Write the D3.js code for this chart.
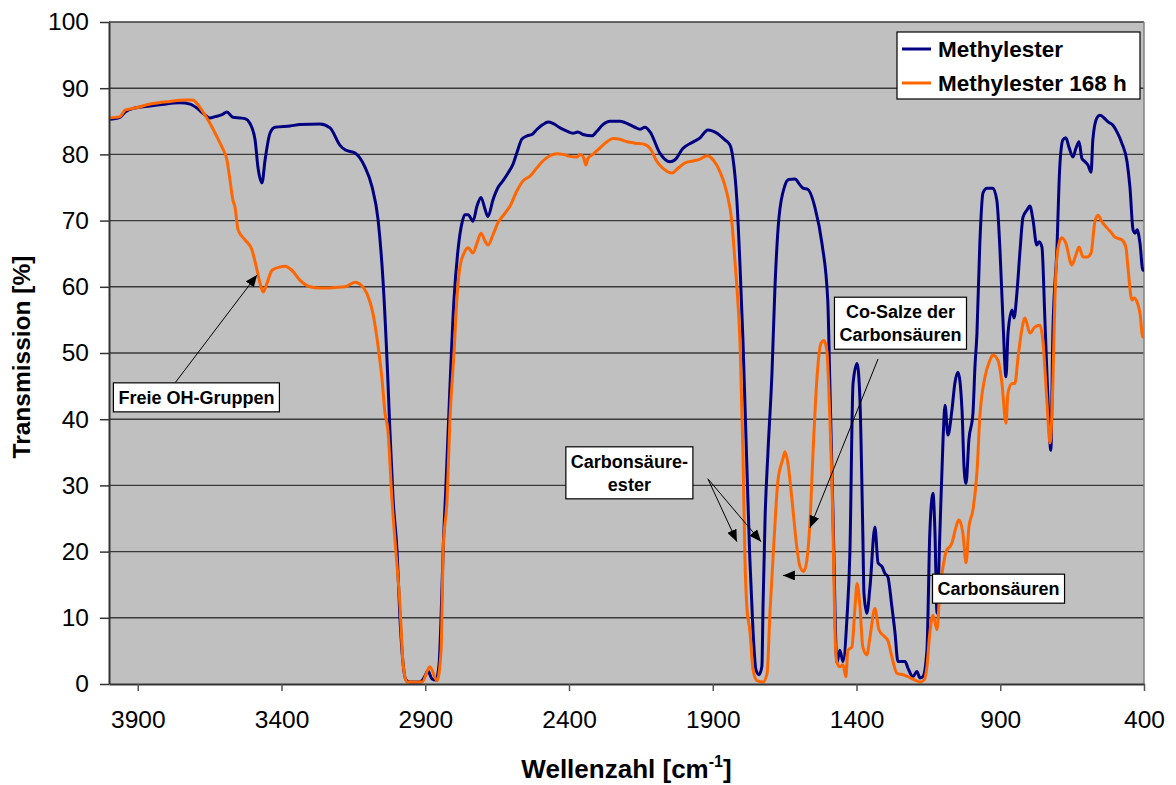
<!DOCTYPE html>
<meta charset="utf-8">
<script src="https://d3js.org/d3.v7.min.js"></script>
<style>
  body { margin: 0; background: #fff; }
  text { font-family: Arial, "Liberation Sans", sans-serif; }
</style>
<div id="my_dataviz"></div>
<script>

// series names (legend)
var seriesNames = ["Methylester", "Methylester 168 h"];

// Methylester: wavenumber [cm-1] and transmission [%]
var methylWn = [4000,3962,3944,3910,3857,3823,3753,3718,3694,3673,3649,3631,3607,3590,3569,3544,3527,3510,3492,3482,3468,3457,3440,3423,3370,3336,3266,3231,3197,3179,3144,3110,3085,3064,3047,3030,3023,3012,2998,2988,2977,2967,2953,2918,2901,2891,2877,2863,2852,2845,2838,2828,2814,2800,2786,2772,2762,2751,2734,2720,2706,2692,2682,2664,2647,2630,2612,2595,2581,2564,2546,2529,2511,2491,2473,2456,2431,2407,2386,2369,2351,2320,2303,2282,2258,2223,2205,2171,2153,2136,2118,2084,2049,2031,2004,1972,1944,1917,1885,1858,1840,1830,1816,1805,1795,1781,1771,1760,1750,1739,1729,1725,1718,1708,1694,1684,1670,1649,1636,1614,1597,1586,1569,1544,1520,1500,1493,1482,1468,1458,1447,1433,1423,1412,1398,1388,1378,1374,1364,1353,1336,1325,1311,1301,1291,1277,1266,1256,1231,1221,1204,1190,1179,1169,1155,1145,1134,1127,1120,1110,1099,1092,1082,1068,1058,1047,1033,1026,1019,1009,995,988,981,971,960,946,926,912,901,891,880,873,859,852,842,831,821,807,797,786,773,765,755,745,734,724,717,703,693,682,672,661,647,637,626,616,605,595,584,578,564,553,539,525,508,494,477,459,449,438,431,424,414,404,400];
var methylT = [85.3,85.6,86.4,87.0,87.3,87.5,87.8,87.6,87.0,86.2,85.5,85.7,86.0,86.4,85.6,85.5,85.4,84.7,82.2,78.1,75.7,79.2,83.2,84.1,84.3,84.5,84.6,84.0,81.4,80.7,80.2,78.1,75.1,70.1,61,45.9,38.4,28,20,10,3,0.6,0.3,0.3,1.2,2.0,0.8,0.6,3,10,20,30,45,58.1,65.6,69.7,70.9,70.9,69.9,72.2,73.5,71.7,70.6,73.2,75,76,77.2,78.5,80.3,82.3,82.8,83,83.8,84.5,84.9,84.7,84,83.5,83.2,83.4,83,82.8,83.5,84.5,85,85,84.8,84.1,83.8,84.1,83.4,80.2,78.9,79.2,80.9,81.8,82.5,83.7,83.2,82.2,81.4,79.5,73,63,52,32.4,18.9,8.1,2.2,1.4,2.7,12,25,35,47,59.5,70.3,75.3,76.2,76.3,75.4,74.9,74.7,71.9,66.5,58,46,26,3.2,5.1,3.4,10.1,19.8,45.4,48.4,42.9,22.8,13.7,10.7,14.7,23.7,18.3,17.7,16.7,16.2,11.7,7.7,3.4,3.4,2.4,1.1,1.9,0.9,1.1,5.1,22.8,28.8,22.8,10.7,22.8,36.9,42.1,37.6,41.4,45.4,47.1,41.4,32.8,30.3,36.9,40.9,47.9,53,66.6,74.2,74.9,74.9,73.1,65.6,55.4,46.4,53,56.5,55.3,59.1,65.6,70.5,71.6,72.2,70.1,66.3,66.8,66.0,55.4,42.9,35.3,53,65.6,78.1,82.2,82.5,81.1,79.6,80.9,81.9,79.4,78.9,78.4,77.3,82.2,85.5,85.9,85.5,84.9,84.4,83.4,81.7,78.9,75.1,68.6,68.1,68.6,66.6,62.5,62.5];

// Methylester 168 h: wavenumber [cm-1] and transmission [%]
var agedWn = [4000,3962,3944,3910,3857,3788,3736,3708,3694,3673,3649,3624,3607,3590,3579,3569,3562,3551,3527,3503,3485,3475,3464,3450,3433,3405,3388,3364,3336,3301,3266,3214,3179,3144,3127,3103,3082,3064,3050,3040,3030,3016,3002,2988,2977,2964,2911,2884,2859,2845,2842,2838,2824,2814,2800,2790,2779,2765,2751,2734,2720,2706,2692,2682,2664,2647,2630,2605,2581,2560,2536,2511,2491,2466,2442,2421,2397,2372,2362,2351,2341,2334,2317,2292,2268,2247,2223,2205,2171,2136,2118,2094,2073,2042,2021,1997,1969,1944,1920,1899,1875,1851,1833,1823,1816,1805,1795,1788,1781,1771,1760,1746,1725,1711,1701,1687,1673,1656,1649,1639,1625,1607,1597,1583,1572,1562,1551,1538,1524,1513,1503,1493,1482,1475,1468,1458,1447,1437,1430,1416,1405,1398,1388,1378,1364,1353,1336,1322,1301,1291,1277,1259,1238,1221,1197,1179,1165,1155,1145,1134,1120,1110,1099,1089,1068,1054,1044,1030,1019,1009,995,981,971,953,936,926,908,894,880,873,859,849,838,825,814,797,780,762,752,738,727,717,710,700,686,672,651,637,626,612,598,584,571,560,546,529,512,501,477,463,456,442,435,424,414,404,400];
var agedT = [85.5,85.7,86.7,87.0,87.6,88.0,88.2,88.2,87.7,86.4,84.7,82.6,81.1,79.2,76.1,73.1,72.1,68.6,67.1,65.6,62.5,60.6,59.2,60.6,62.5,63,63.1,62.5,61,60,59.8,59.9,60,60.7,60.4,59,56,51,45.9,40.9,38.4,28,20,12,3,0.3,0.3,2.6,0.5,5,10,20,28,40,50,58.1,63.1,65.1,65.9,65.1,66.6,68.1,66.9,66.3,67.9,69.7,70.7,72.2,74.5,76,76.7,78,79,79.8,80.1,80,79.7,79.6,80,79.7,78.4,79.4,80,81,81.9,82.4,82.3,82.0,81.7,81.5,80.9,78.9,77.9,77.2,77.9,78.7,79,79.3,79.8,79.2,77.4,74.2,69.6,64,60,51.4,35.1,19,11.4,8.1,2.2,0.5,0.3,1.6,10.8,21.6,30.8,34,35.1,33.5,28.1,20.5,17.8,17,18.9,24.3,35.1,45.9,51.4,51.9,50.3,40.5,24.3,8.1,3.2,2.6,2.9,1.1,5.1,5.6,11.7,15.2,11.7,5.6,4.4,7.1,11.4,8.2,7.1,6.6,4.1,1.6,1.4,1.1,0.6,0.3,0.6,2.6,7.7,10.4,8.2,14.2,17.7,19.9,21.3,23.7,24.8,22.8,18.3,23.7,26.3,32,40.3,46.4,48.9,49.7,48.9,45.4,39.4,44,45.4,45.4,49.4,53.5,55.3,53,53.9,54.2,52,42.9,36.4,45.4,58,65.6,67.4,66.6,63.3,64.8,66,64.5,64.5,65.1,69.8,70.8,69.8,68.9,68.1,67.5,67.1,66.0,63,58,58.3,57.7,56,52.4,52.4];

// axis ticks
var xTicks = [3900, 3400, 2900, 2400, 1900, 1400, 900, 400];
var yTicks = [0, 10, 20, 30, 40, 50, 60, 70, 80, 90, 100];

// annotations: label lines, box centre [wn, T], arrow start and arrow tips [wn, T]
var annoLabels = [["Freie OH-Gruppen"], ["Carbonsäure-", "ester"], ["Co-Salze der", "Carbonsäuren"], ["Carbonsäuren"]];
var annoBoxCenter = [[3696, 43.3], [2190, 31.9], [1247, 54.5], [906, 14.4]];
var annoArrowFrom = [[3770, 45.5], [1917, 31.0], [1325, 49.1], [1134, 16.4]];
var annoArrowTo = [[[3485, 61.8]], [[1816, 21.5], [1732, 21.5]], [[1562, 23.6]], [[1656, 16.4]]];

var W = 1176, H = 785;
var margin = {top: 22, right: 32, bottom: 101, left: 109},
    width = W - margin.left - margin.right,
    height = H - margin.top - margin.bottom;

var svg = d3.select("#my_dataviz")
  .append("svg")
    .attr("width", W)
    .attr("height", H)
  .append("g")
    .attr("transform", "translate(" + margin.left + "," + margin.top + ")");

var x = d3.scaleLinear().domain([4000, 400]).range([0, width]);
var y = d3.scaleLinear().domain([0, 100]).range([height, 0]);

// plot area
svg.append("rect")
  .attr("width", width).attr("height", height)
  .attr("fill", "#c0c0c0");

// grid lines
svg.append("g").selectAll("line")
  .data(yTicks.filter(function(d) { return d > 0; }))
  .enter().append("line")
    .attr("x1", 0).attr("x2", width)
    .attr("y1", function(d) { return y(d); })
    .attr("y2", function(d) { return y(d); })
    .attr("stroke", "#3a3a3a")
    .attr("stroke-width", 1.4);

// right border
svg.append("line")
  .attr("x1", width).attr("x2", width).attr("y1", 0).attr("y2", height)
  .attr("stroke", "#808080").attr("stroke-width", 1.5);

svg.append("defs").append("clipPath").attr("id", "clip")
  .append("rect").attr("width", width).attr("height", height);

var line = d3.line()
  .x(function(d) { return x(d[0]); })
  .y(function(d) { return y(d[1]); })
  .curve(d3.curveMonotoneX);

var series = [
  {name: seriesNames[0], color: "#000080", pts: d3.zip(methylWn, methylT)},
  {name: seriesNames[1], color: "#ff6600", pts: d3.zip(agedWn, agedT)}
];

svg.append("g").attr("clip-path", "url(#clip)")
  .selectAll("path")
  .data(series)
  .enter().append("path")
    .attr("d", function(d) { return line(d.pts); })
    .attr("fill", "none")
    .attr("stroke", function(d) { return d.color; })
    .attr("stroke-width", 3)
    .attr("stroke-linejoin", "round");

// axes
var xAxis = svg.append("g")
  .attr("transform", "translate(0," + height + ")")
  .call(d3.axisBottom(x).tickValues(xTicks).tickFormat(d3.format("d")).tickSize(7).tickPadding(20).tickSizeOuter(0));
xAxis.select(".domain").attr("stroke", "#333").attr("stroke-width", 2);
xAxis.selectAll(".tick line").attr("stroke", "#555").attr("stroke-width", 1.5);
xAxis.selectAll("text").attr("font-size", 24.5).attr("fill", "#000")
  .attr("font-family", "Arial, 'Liberation Sans', sans-serif");

var yAxis = svg.append("g")
  .call(d3.axisLeft(y).tickValues(yTicks).tickSize(9).tickPadding(11).tickSizeOuter(0));
yAxis.select(".domain").attr("stroke", "#333").attr("stroke-width", 2);
yAxis.selectAll(".tick line").attr("stroke", "#333").attr("stroke-width", 1.5);
yAxis.selectAll("text").attr("font-size", 24.5).attr("fill", "#000")
  .attr("font-family", "Arial, 'Liberation Sans', sans-serif");

// axis titles
var xt = svg.append("text")
  .attr("x", width / 2).attr("y", height + 94)
  .attr("text-anchor", "middle")
  .attr("font-size", 26).attr("font-weight", "bold");
xt.append("tspan").text("Wellenzahl [cm");
xt.append("tspan").text("-1").attr("font-size", 16).attr("dy", -11);
xt.append("tspan").text("]").attr("dy", 11);

svg.append("text")
  .attr("transform", "translate(" + (-margin.left + 30) + "," + (height / 2 + 4) + ") rotate(-90)")
  .attr("text-anchor", "middle")
  .attr("font-size", 24.5).attr("font-weight", "bold")
  .text("Transmission [%]");

// legend
var lg = svg.append("g").attr("transform", "translate(" + (897 - margin.left) + "," + (32 - margin.top) + ")");
lg.append("rect").attr("width", 243).attr("height", 67)
  .attr("fill", "#fff").attr("stroke", "#000").attr("stroke-width", 1.2);
series.forEach(function(s, i) {
  var cy = 17 + i * 34;
  lg.append("line").attr("x1", 5).attr("x2", 34).attr("y1", cy).attr("y2", cy)
    .attr("stroke", s.color).attr("stroke-width", 3);
  lg.append("text").attr("x", 41).attr("y", cy + 8)
    .attr("font-size", 22.5).attr("font-weight", "bold").text(s.name);
});

// annotations
svg.append("defs").append("marker")
  .attr("id", "arrow").attr("viewBox", "0 0 12 10")
  .attr("refX", 12).attr("refY", 5)
  .attr("markerWidth", 12).attr("markerHeight", 10)
  .attr("markerUnits", "userSpaceOnUse")
  .attr("orient", "auto")
  .append("path").attr("d", "M0,0 L12,5 L0,10 Z").attr("fill", "#000");

annoLabels.forEach(function(lines, i) {
  var g = svg.append("g");
  annoArrowTo[i].forEach(function(tip) {
    g.append("line")
      .attr("x1", x(annoArrowFrom[i][0])).attr("y1", y(annoArrowFrom[i][1]))
      .attr("x2", x(tip[0])).attr("y2", y(tip[1]))
      .attr("stroke", "#000").attr("stroke-width", 1)
      .attr("marker-end", "url(#arrow)");
  });
  var cx = x(annoBoxCenter[i][0]), cy = y(annoBoxCenter[i][1]);
  var t = g.append("text").attr("text-anchor", "middle")
    .attr("font-size", 18).attr("font-weight", "bold");
  lines.forEach(function(s, j) {
    t.append("tspan").attr("x", cx)
      .attr("y", cy + 6.5 - (lines.length - 1) * 11.5 + j * 23).text(s);
  });
  var bb = t.node().getBBox();
  g.insert("rect", "text")
    .attr("x", bb.x - 5).attr("y", cy - (lines.length * 23 + 6) / 2)
    .attr("width", bb.width + 10).attr("height", lines.length * 23 + 6)
    .attr("fill", "#fff").attr("stroke", "#000").attr("stroke-width", 1.2);
});

</script>
